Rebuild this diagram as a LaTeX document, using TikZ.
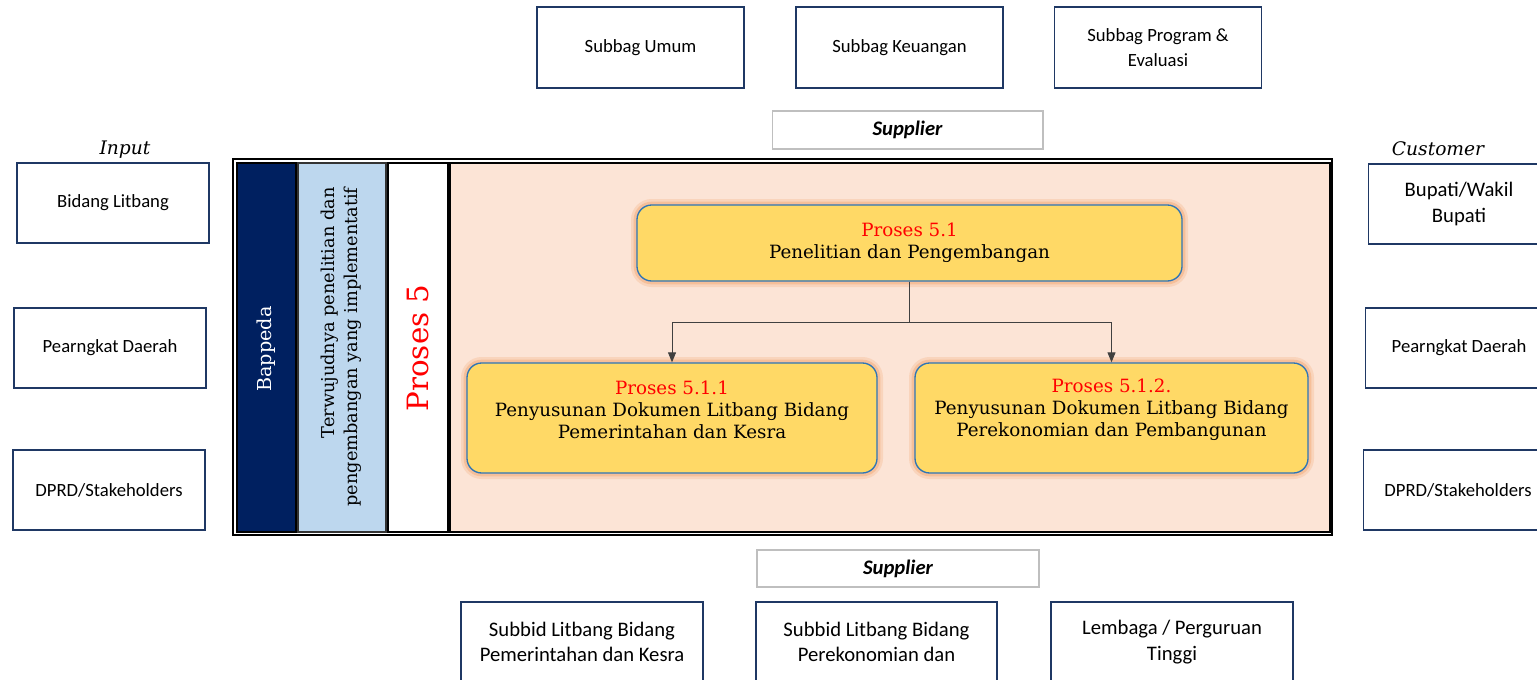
\documentclass[tikz,border=0pt]{standalone}
\usepackage{fontspec}
\setmainfont{DejaVu Serif}
\setsansfont{Carlito}
\usetikzlibrary{arrows.meta}

\definecolor{navy}{HTML}{1F3864}
\definecolor{bapfill}{HTML}{002060}
\definecolor{goalfill}{HTML}{BDD7EE}
\definecolor{peach}{HTML}{FCE4D6}
\definecolor{procfill}{HTML}{FFD966}
\definecolor{procline}{HTML}{2E75B6}
\definecolor{glow}{HTML}{F4B183}
\definecolor{supline}{HTML}{BFBFBF}
\definecolor{redtxt}{HTML}{FF0000}

\tikzset{
  unitbox/.style={draw=navy, line width=1.1pt, fill=white, align=center,
    font=\sffamily\fontsize{14}{18.5}\selectfont},
  bigunit/.style={unitbox, font=\sffamily\fontsize{15.5}{19}\selectfont},
  supbox/.style={draw=supline, line width=1pt, fill=white,
    font=\sffamily\bfseries\itshape\fontsize{15.5}{16}\selectfont},
  proclbl/.style={align=center, font=\rmfamily\fontsize{13.7}{16.5}\selectfont},
  procbox/.style={draw=procline, line width=1pt, fill=procfill, rounded corners=11pt,
    preaction={draw=glow, line width=9pt, opacity=0.3},
    preaction={draw=glow, line width=5pt, opacity=0.6}},
  sidelbl/.style={font=\rmfamily\itshape\fontsize{14}{16}\selectfont},
  link/.style={draw=black!75, line width=0.7pt, -{Triangle[length=7.5pt,width=6pt]}}
}

\begin{document}
\begin{tikzpicture}[x=0.75pt,y=0.75pt,yscale=-1]
\clip (0,0) rectangle (1537,679);
\fill[white] (0,0) rectangle (1537,679);

% Supplier top
\node[unitbox, minimum width=155pt, minimum height=60.75pt] (umum) at (640.5,47.5) {Subbag Umum};
\node[unitbox, minimum width=155pt, minimum height=60.75pt] (keu) at (899.5,47.5) {Subbag Keuangan};
\node[unitbox, minimum width=155pt, minimum height=60.75pt] (prog) at (1158,47.5) {Subbag Program \&\\Evaluasi};
\node[supbox, minimum width=203pt, minimum height=28.5pt] (suptop) at (907.5,130) {Supplier};

% Input
\node[sidelbl] (inlbl) at (125,150) {Input};
\node[unitbox, minimum width=144pt, minimum height=60pt] (in1) at (113,203) {Bidang Litbang};
\node[unitbox, minimum width=144pt, minimum height=60pt] (in2) at (110,348) {Pearngkat Daerah};
\node[unitbox, minimum width=144pt, minimum height=60pt] (in3) at (109,490) {DPRD/Stakeholders};

% Customer
\node[sidelbl] (outlbl) at (1438,149) {Customer};
\node[bigunit, minimum width=136pt, minimum height=60pt] (out1) at (1459,204) {Bupati/Wakil\\Bupati};
\node[unitbox, minimum width=140pt, minimum height=60pt] (out2) at (1459,348) {Pearngkat Daerah};
\node[unitbox, minimum width=142pt, minimum height=60pt] (out3) at (1458,490) {DPRD/Stakeholders};

% main frame
\draw[line width=1.2pt] (233,159) rectangle (1332,535);
\filldraw[fill=bapfill, draw=black, line width=1.5pt] (236.5,162.5) rectangle (296,531.5);
\filldraw[fill=goalfill, draw=black!80, line width=1.5pt] (298,162.5) rectangle (385.5,531.5);
\filldraw[fill=white, draw=black, line width=1.5pt] (388,162.5) rectangle (448,531.5);
\filldraw[fill=peach, draw=black, line width=1.5pt] (450,162.5) rectangle (1329.5,531.5);

\node[rotate=90, text=white, font=\rmfamily\fontsize{14.4}{16}\selectfont] (bappeda) at (266,349) {Bappeda};
\node[rotate=90, align=right, font=\rmfamily\fontsize{13.3}{17}\selectfont] (goal) at (341,347) {Terwujudnya penelitian dan\\pengembangan yang implementatif};
\node[rotate=90, text=redtxt, font=\rmfamily\fontsize{22}{24}\selectfont] (proses) at (418,348) {Proses 5};

% Proses
\node[procbox, proclbl, minimum width=408.75pt, minimum height=57pt] (p51) at (909.5,243) {\textcolor{redtxt}{Proses 5.1}\\Penelitian dan Pengembangan};
\node[procbox, minimum width=307.5pt, minimum height=82.5pt] (p511) at (672,418) {};
\node[procbox, minimum width=294.75pt, minimum height=82.5pt] (p512) at (1111.5,418) {};
\path (p511.center) ++(0,-8) node[proclbl] (p511t) {\textcolor{redtxt}{Proses 5.1.1}\\Penyusunan Dokumen Litbang Bidang\\Pemerintahan dan Kesra};
\path (p512.center) ++(0,-8) node[proclbl] (p512t) {\textcolor{redtxt}{Proses 5.1.2.}\\Penyusunan Dokumen Litbang Bidang\\Perekonomian dan Pembangunan};

\draw[link] (p51.south) -- ++(0,41) -| (p511.north);
\draw[link] (p51.south) -- ++(0,41) -| (p512.north);

% Supplier bottom
\node[supbox, minimum width=211.5pt, minimum height=27.75pt] (supbot) at (898,568.5) {Supplier};
\node[bigunit, minimum width=181.5pt, minimum height=60pt] (sub1) at (582,642) {Subbid Litbang Bidang\\Pemerintahan dan Kesra};
\node[bigunit, minimum width=181pt, minimum height=60pt] (sub2) at (876.5,642) {Subbid Litbang Bidang\\Perekonomian dan};
\node[bigunit, minimum width=181.5pt, minimum height=60pt] (sub3) at (1172,642) {Lembaga / Perguruan\\Tinggi};
\end{tikzpicture}
\end{document}
